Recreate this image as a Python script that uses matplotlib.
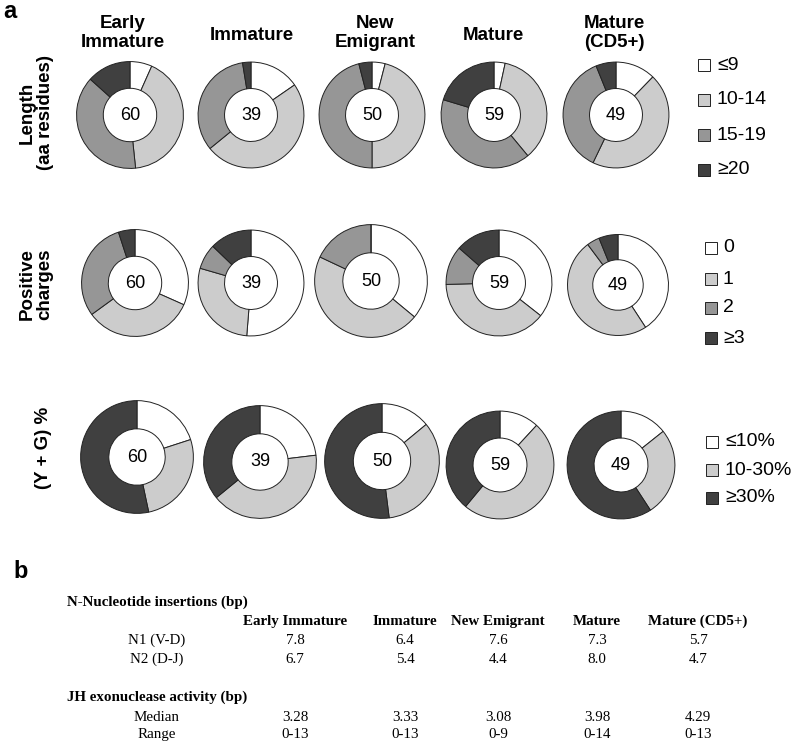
import matplotlib
matplotlib.use("Agg")
import matplotlib.pyplot as plt
from matplotlib.patches import Rectangle

plt.rcParams['font.family'] = ['Liberation Sans', 'DejaVu Sans']

# ---- data ----
col_titles = ['Early\nImmature', 'Immature', 'New\nEmigrant', 'Mature', 'Mature\n(CD5+)']
n_seqs = [60, 39, 50, 59, 49]

length_labels = ['\u22649', '10-14', '15-19', '\u226520']
length_counts = [[4, 25, 23, 8], [6, 19, 13, 1], [2, 23, 23, 2], [2, 21, 24, 12], [6, 22, 18, 3]]

charge_labels = ['0', '1', '2', '\u22653']
charge_counts = [[19, 20, 18, 3], [20, 11, 3, 5], [18, 23, 9, 0], [21, 23, 7, 8], [20, 24, 2, 3]]

yg_labels = ['\u226410%', '10-30%', '\u226530%']
yg_counts = [[12, 16, 32], [9, 16, 14], [7, 17, 26], [7, 29, 23], [7, 13, 29]]

row_labels = ['Length\n(aa residues)', 'Positive\ncharges', '(Y + G) %']

table_groups = ['Early Immature', 'Immature', 'New Emigrant', 'Mature', 'Mature (CD5+)']
n1_vd = ['7.8', '6.4', '7.6', '7.3', '5.7']
n2_dj = ['6.7', '5.4', '4.4', '8.0', '4.7']
jh_median = ['3.28', '3.33', '3.08', '3.98', '4.29']
jh_range = ['0-13', '0-13', '0-9', '0-14', '0-13']

# ---- layout (pixels) ----
W, H = 800, 747
grey4 = ['white', '#cccccc', '#969696', '#404040']
grey3 = ['white', '#cccccc', '#404040']

donut_x = [[130, 251, 372, 494, 616],
           [135, 251, 371, 499, 618],
           [137, 260, 382, 500, 621]]
donut_y = [[115, 115, 115, 115, 115],
           [283, 283, 281, 283, 285],
           [457, 462, 461, 465, 465]]
donut_d = [[109, 108, 108, 108, 108],
           [109, 108, 115, 108, 103],
           [115, 115, 117, 110, 110]]

title_x = [123, 252, 375, 493, 614]
legend_sq_x = [698, 705, 706]
legend_txt_x = [717, 723, 725]
legend_y = [[65, 100, 135, 170], [248, 279, 308, 338], [442, 470, 498]]
row_label_pos = [(36, 113), (36, 284), (44, 448)]


def fx(x):
    return x / W


def fy(y):
    return 1 - y / H


fig = plt.figure(figsize=(W / 100, H / 100), dpi=100)

rows = [(length_counts, grey4, length_labels),
        (charge_counts, grey4, charge_labels),
        (yg_counts, grey3, yg_labels)]

for r, (counts, cols, labels) in enumerate(rows):
    for c in range(5):
        d = donut_d[r][c]
        cx, cy = donut_x[r][c], donut_y[r][c]
        ax = fig.add_axes([fx(cx - d / 2), fy(cy + d / 2), d / W, d / H])
        ax.pie(counts[c], colors=cols, startangle=90, counterclock=False, radius=1,
               wedgeprops=dict(width=0.5, edgecolor='#222222', linewidth=0.7))
        ax.set_xlim(-1.02, 1.02)
        ax.set_ylim(-1.02, 1.02)
        ax.set_aspect('equal')
        ax.axis('off')
        ax.text(0, 0, str(n_seqs[c]), ha='center', va='center', fontsize=13)

    # legend
    for i, lab in enumerate(labels):
        y = legend_y[r][i]
        s = 12
        fig.patches.append(Rectangle((fx(legend_sq_x[r]), fy(y + s / 2)), s / W, s / H,
                                     facecolor=cols[i], edgecolor='#222222', linewidth=0.7,
                                     transform=fig.transFigure, figure=fig))
        fig.text(fx(legend_txt_x[r]), fy(y), lab, ha='left', va='center', fontsize=14)

    lx, ly = row_label_pos[r]
    fig.text(fx(lx), fy(ly), row_labels[r], rotation=90, ha='center', va='center',
             multialignment='center', fontsize=13.5, fontweight='bold', linespacing=1.1)

for c, t in enumerate(col_titles):
    yy = 33 if '\n' in t else 35
    fig.text(fx(title_x[c]), fy(yy), t, ha='center', va='center', fontsize=13.5,
             fontweight='bold', linespacing=1.1)

fig.text(fx(10), fy(12), 'a', ha='center', va='center', fontsize=17, fontweight='bold')
fig.text(fx(21), fy(571), 'b', ha='center', va='center', fontsize=17, fontweight='bold')

# ---- table (panel b) ----
serif = ['Liberation Serif', 'DejaVu Serif']
fs = 10.8
tab_x = [295, 405, 498, 597, 698]
lab_x = 157
kw = dict(family=serif, fontsize=fs, va='baseline')
fig.text(fx(67), fy(606), 'N-Nucleotide insertions (bp)', fontweight='bold', **kw)
for c, g in enumerate(table_groups):
    fig.text(fx(tab_x[c]), fy(625), g, fontweight='bold', ha='center', **kw)
    fig.text(fx(tab_x[c]), fy(644), n1_vd[c], ha='center', **kw)
    fig.text(fx(tab_x[c]), fy(663), n2_dj[c], ha='center', **kw)
    fig.text(fx(tab_x[c]), fy(721), jh_median[c], ha='center', **kw)
    fig.text(fx(tab_x[c]), fy(738), jh_range[c], ha='center', **kw)
fig.text(fx(lab_x), fy(644), 'N1 (V-D)', ha='center', **kw)
fig.text(fx(lab_x), fy(663), 'N2 (D-J)', ha='center', **kw)
fig.text(fx(67), fy(701), 'JH exonuclease activity (bp)', fontweight='bold', **kw)
fig.text(fx(lab_x), fy(721), 'Median', ha='center', **kw)
fig.text(fx(lab_x), fy(738), 'Range', ha='center', **kw)

fig.savefig('out.png', dpi=100)
